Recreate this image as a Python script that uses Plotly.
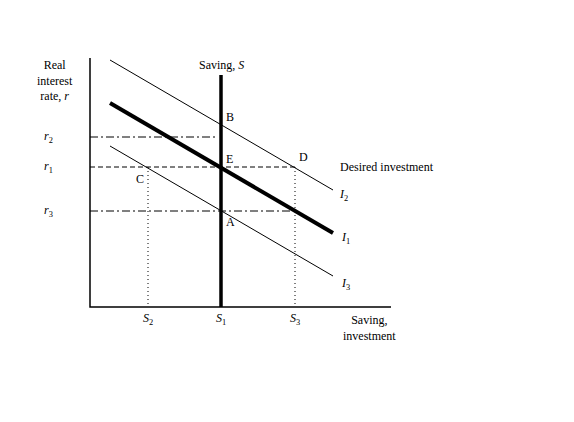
import plotly.graph_objects as go

# coordinates in chart units (x: saving/investment, y: real interest rate)
inv_x = [20, 243]
i2_y = [247, 117]
i1_y = [204, 74]
i3_y = [161, 31]
s1 = 131
s2 = 58
s3 = 205
r1, r2, r3 = 140, 170, 96
saving_top = 232

F = dict(family="Liberation Serif", size=12, color="black")
fig = go.Figure()

# axes
fig.add_trace(go.Scatter(x=[0, 0, 301], y=[249, 0, 0], mode="lines", line=dict(color="black", width=1.5)))
# rate guides
fig.add_trace(go.Scatter(x=[0, s1 - 5], y=[r2, r2], mode="lines", line=dict(color="black", width=1, dash="8px,3px,2px,3px")))
fig.add_trace(go.Scatter(x=[0, s3], y=[r1, r1], mode="lines", line=dict(color="black", width=1, dash="5px,3px")))
fig.add_trace(go.Scatter(x=[0, s3], y=[r3, r3], mode="lines", line=dict(color="black", width=1, dash="8px,3px,2px,3px")))
fig.add_trace(go.Scatter(x=[s2, s2], y=[r1, 0], mode="lines", line=dict(color="black", width=1, dash="1px,3px")))
fig.add_trace(go.Scatter(x=[s3, s3], y=[r1, 0], mode="lines", line=dict(color="black", width=1, dash="1px,3px")))
# investment curves
fig.add_trace(go.Scatter(x=inv_x, y=i2_y, mode="lines", line=dict(color="black", width=1)))
fig.add_trace(go.Scatter(x=inv_x, y=i3_y, mode="lines", line=dict(color="black", width=1)))
fig.add_trace(go.Scatter(x=inv_x, y=i1_y, mode="lines", line=dict(color="black", width=4)))
# saving
fig.add_trace(go.Scatter(x=[s1, s1], y=[0, saving_top], mode="lines", line=dict(color="black", width=3.5)))

def txt(x, y, t, xa="center", ya="middle"):
    fig.add_annotation(x=x, y=y, text=t, showarrow=False, font=F, xanchor=xa, yanchor=ya)

txt(-55, 251, "Real<br>interest<br>rate, <i>r</i>", xa="left", ya="top")
txt(-42, r2, "<i>r</i><sub>2</sub>")
txt(-42, r1, "<i>r</i><sub>1</sub>")
txt(-42, r3, "<i>r</i><sub>3</sub>")
txt(s2, -12, "<i>S</i><sub>2</sub>")
txt(s1, -12, "<i>S</i><sub>1</sub>")
txt(s3, -12, "<i>S</i><sub>3</sub>")
txt(251, -4, "Saving,<br>investment", xa="left", ya="top")
txt(s1, saving_top + 1, "Saving, <i>S</i>", ya="bottom")
txt(248, r1, "Desired investment", xa="left")
txt(247, 112, "<i>I</i><sub>2</sub>", xa="left")
txt(249, 69, "<i>I</i><sub>1</sub>", xa="left")
txt(249, 23, "<i>I</i><sub>3</sub>", xa="left")
txt(s1 + 3, 190, "B", xa="left")
txt(s1 + 3, 148, "E", xa="left")
txt(s1 + 3, 85, "A", xa="left")
txt(s3 + 2, 150, "D", xa="left")
txt(s2 - 2, 128, "C", xa="right")

fig.update_layout(
    width=574, height=422, showlegend=False,
    margin=dict(l=0, r=0, t=0, b=0),
    plot_bgcolor="white", paper_bgcolor="white",
    xaxis=dict(range=[-82, 492], visible=False),
    yaxis=dict(range=[-123, 299], visible=False),
)
fig.write_html("out.html")
